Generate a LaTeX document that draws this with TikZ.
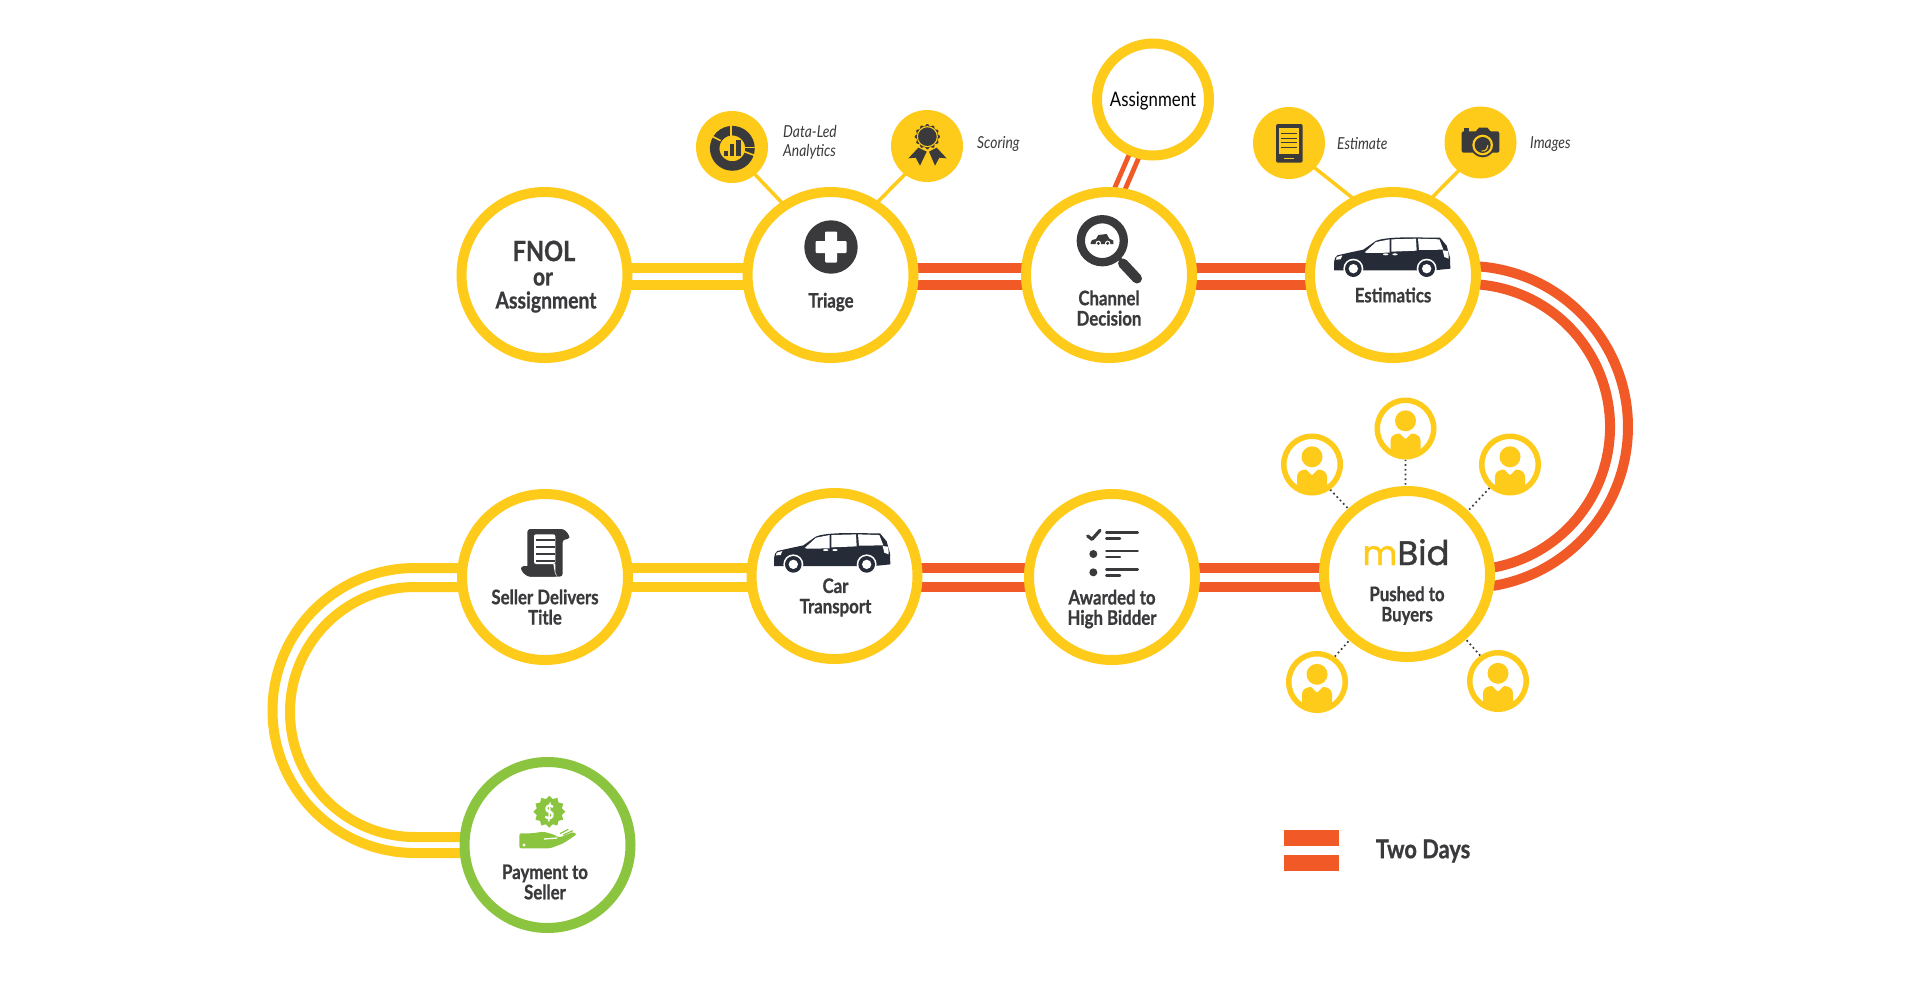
\documentclass[tikz,border=0pt]{standalone}
\usepackage{fontspec}
\usetikzlibrary{backgrounds}
\newfontfamily\lblfont[FakeStretch=0.84,BoldFeatures={FakeBold=0.8}]{Lato}
\newfontfamily\logofont[FakeBold=1.2]{Poppins}
\definecolor{cgold}{HTML}{FFCB1B}
\definecolor{corange}{HTML}{F15A27}
\definecolor{cgreen}{HTML}{8BC53F}
\definecolor{dk}{HTML}{3A3A3C}
\definecolor{navy}{HTML}{252C38}
\tikzset{
  zc/.style={x=0.33333pt,y=-0.33333pt},
  ring/.style={circle,draw=#1,line width=10pt,fill=white,inner sep=0pt,minimum size=166pt},
  ring/.default=cgold,
  smallring/.style={circle,draw=cgold,line width=10pt,fill=white,inner sep=0pt,minimum size=112pt},
  buyerring/.style={circle,draw=cgold,line width=5.5pt,fill=white,inner sep=0pt,minimum size=56.5pt},
  satdisc/.style={circle,fill=cgold,inner sep=0pt,minimum size=72pt},
  band/.style={draw=#1,line width=10pt,line cap=butt},
  thinband/.style={draw=corange,line width=4.8pt},
  stem/.style={draw=cgold,line width=3.5pt,shorten <=-1.5pt,shorten >=-1.5pt},
  dots/.style={draw=dk,line width=1.7pt,dash pattern=on 1.7pt off 3pt},
  lbl/.style={inner sep=0pt,align=center,text=dk,font=\lblfont\bfseries\fontsize{#1}{20.3}\selectfont},
  lbl/.default=20,
  note/.style={inner sep=0pt,align=left,anchor=west,text=dk,font=\lblfont\itshape\fontsize{16.5}{18.5}\selectfont},
  iconvan/.pic={
    \begin{scope}[zc]
      \fill[navy] (0,100) -- (0,78) .. controls (2,64) and (4,58) .. (10,55) -- (50,46) -- (88,38)
        -- (125,12) .. controls (140,5) and (170,2) .. (215,1) -- (318,2) -- (338,26)
        -- (348,62) -- (349,95) -- (300,100) -- cycle;
      \fill[white] (92,46) -- (126,15) -- (167,7) -- (167,47) -- (100,48) -- cycle;
      \fill[white] (172,7) -- (246,5) -- (248,41) -- (172,44) -- cycle;
      \fill[white] (252,5) -- (316,7) -- (328,38) -- (255,39) -- cycle;
      \fill[white] (8,60) -- (25,55) -- (20,67) -- (6,68) -- cycle;
      \fill[white] (326,40) -- (343,42) -- (344,65) -- (331,60) -- cycle;
      \fill[white] (155,52) ellipse [x radius=8,y radius=3];
      \fill[white] (183,52) ellipse [x radius=8,y radius=3];
      \foreach \wx in {58,278}{
        \fill[white] (\wx,95) circle [radius=30];
        \fill[navy] (\wx,95) circle [radius=25];
        \fill[white] (\wx,95) circle [radius=14];
      }
    \end{scope}
  },
  iconbuyer/.pic={
    \fill[cgold] (0,-7.7) circle [radius=10.5];
    \fill[cgold] (-15,22) -- (-15,12) .. controls (-15,7) and (-10,5) .. (-6,5) -- (0,10.7) -- (6,5)
      .. controls (10,5) and (15,7) .. (15,12) -- (15,22) -- (0,27) -- cycle;
  }
}
\begin{document}
\begin{tikzpicture}[x=1pt,y=-1pt]
\useasboundingbox (0,0) rectangle (1920,988);
% guide heights of the double bands
\coordinate (u1) at (0,267.5);
\coordinate (u2) at (0,285);
\coordinate (m1) at (0,568);
\coordinate (m2) at (0,587);
\coordinate (b1) at (0,853);
\coordinate (b2) at (0,837);
% main stations
\node[ring] (fnol) at (544.5,275) {};
\node[ring] (triage) at (830.5,275) {};
\node[ring] (channel) at (1109,275) {};
\node[ring] (estim) at (1393,275) {};
\node[ring] (mbid) at (1407,574) {};
\node[ring] (award) at (1112,577) {};
\node[ring] (cartr) at (834.5,576) {};
\node[ring] (seller) at (545,577) {};
\node[ring=cgreen] (pay) at (547.5,845) {};
\node[smallring] (assign) at (1153,99.5) {};
% satellites
\node[satdisc] (data) at (732,147) {};
\node[satdisc] (score) at (927,146) {};
\node[satdisc] (estimate) at (1289,143) {};
\node[satdisc] (images) at (1480.5,142.5) {};
\node[buyerring] (bt) at (1405.5,428.5) {};
\node[buyerring] (bl) at (1312,464.5) {};
\node[buyerring] (br) at (1510,464.5) {};
\node[buyerring] (bbl) at (1317,682) {};
\node[buyerring] (bbr) at (1498,681) {};
\begin{pgfonlayer}{background}
  \fill[white] (0,0) rectangle (1920,988);
  % top row
  \draw[band=cgold] (fnol.center |- u1) -- (triage.center |- u1);
  \draw[band=cgold] (fnol.center |- u2) -- (triage.center |- u2);
  \draw[band=corange] (triage.center |- u1) -- (channel.center |- u1);
  \draw[band=corange] (triage.center |- u2) -- (channel.center |- u2);
  \draw[band=corange] (channel.center |- u1) -- (estim.center |- u1);
  \draw[band=corange] (channel.center |- u2) -- (estim.center |- u2);
  % right bend
  \draw[band=corange] (estim.center |- u1) -- (1481,266.6) arc[start angle=-85,end angle=80,radius=161] -- (mbid.center |- m2);
  \draw[band=corange] (estim.center |- u2) -- (1481,284.7) arc[start angle=-84.4,end angle=78.2,radius=143] -- (mbid.center |- m1);
  % middle row
  \draw[band=corange] (mbid.center |- m1) -- (award.center |- m1);
  \draw[band=corange] (mbid.center |- m2) -- (award.center |- m2);
  \draw[band=corange] (award.center |- m1) -- (cartr.center |- m1);
  \draw[band=corange] (award.center |- m2) -- (cartr.center |- m2);
  \draw[band=cgold] (cartr.center |- m1) -- (seller.center |- m1);
  \draw[band=cgold] (cartr.center |- m2) -- (seller.center |- m2);
  % left bend
  \draw[band=cgold] (seller.center |- m1) -- (415,568) arc[start angle=-90,end angle=-270,radius=142.5] -- (pay.center |- b1);
  \draw[band=cgold] (seller.center |- m2) -- (415,587) arc[start angle=-90,end angle=-270,radius=125] -- (pay.center |- b2);
  % assignment branch
  \draw[thinband] ([xshift=-32pt]channel.center) -- (assign.center);
  \draw[thinband] ([xshift=-21pt]channel.center) -- ([xshift=11pt]assign.center);
  % satellite stems
  \draw[stem] (data.-50) -- (triage.124);
  \draw[stem] (score.232) -- (triage.57);
  \draw[stem] (estimate.-44) -- (estim.118);
  \draw[stem] (images.232) -- (estim.63);
  % buyers
  \draw[dots] (bt.-90) -- (mbid.91);
  \draw[dots] (bl.-54) -- (mbid.132);
  \draw[dots] (br.-131) -- (mbid.46);
  \draw[dots] (bbl.55) -- (mbid.229);
  \draw[dots] (bbr.125) -- (mbid.-48);
\end{pgfonlayer}
% labels
\node[lbl=28] (t1) at (544,251) {FNOL};
\node[lbl=25] (t1b) at (543,279) {or};
\node[lbl=23] (t1c) at (546,302) {Assignment};
\node[lbl] (t2) at (831,302) {Triage};
\node[lbl] (t3) at (1109,308) {Channel\\Decision};
\node[lbl] (t4) at (1393,295) {Estimatics};
\node[lbl] (t5) at (1407,605.5) {Pushed to\\Buyers};
\node[lbl] (t6) at (1112,609) {Awarded to\\High Bidder};
\node[lbl] (t7) at (835.5,597.5) {Car\\Transport};
\node[lbl] (t8) at (545,607) {Seller Delivers\\Title};
\node[lbl] (t9) at (545,882) {Payment to\\Seller};
\node[lbl,text=black,font=\lblfont\fontsize{20}{20}\selectfont] (t10) at (1153,101) {Assignment};
\node[lbl=26] (t11) at (1423,851) {Two Days};
\node[note] (n1) at (783,142) {Data-Led\\[0.5pt]Analytics};
\node[note] (n2) at (977,144) {Scoring};
\node[note] (n3) at (1337,144) {Estimate};
\node[note] (n4) at (1530,144) {Images};
% legend
\fill[corange] (1284,830) rectangle (1339,846);
\fill[corange] (1284,855) rectangle (1339,871);
% logo
\node[inner sep=0pt,anchor=base,font=\logofont\fontsize{34}{34}\selectfont] (logo) at (1406,565)
  {\textcolor{cgold}{m}\textcolor{dk}{Bid}};
% triage icon
\fill[dk] (831,247) circle [radius=26.7];
\fill[white,rounded corners=1pt] (825,231.5) rectangle (837,262.5);
\fill[white,rounded corners=1pt] (815.5,241) rectangle (846.5,253);
% magnifier
\draw[dk,line width=8.3pt] (1102.3,240.7) circle [radius=21.5];
\draw[dk,line width=4pt] (1118,257) -- (1124,264);
\draw[dk,line width=10pt,line cap=round] (1123,263.5) -- (1137,278.5);
\begin{scope}[shift={(1060,30)},zc]
  \fill[dk] (92,638) -- (96,630) -- (108,627) -- (115,615) -- (140,612) -- (148,626) -- (160,632) -- (160,642) -- (92,642) -- cycle;
  \foreach \wx in {115,143}{\fill[white] (\wx,640) circle [radius=8];\fill[dk] (\wx,640) circle [radius=5];}
\end{scope}
% vans
\pic at (1334,237) {iconvan};
\pic at (774,532.7) {iconvan};
% data icon
\begin{scope}[shift={(690,105)},zc]
  \draw[dk,line width=9.5pt] (127,130) circle [radius=53];
  \draw[cgold,line width=1.6pt] (123,58) -- (123,92);
  \draw[cgold,line width=1.6pt] (62,92) -- (92,107);
  \draw[cgold,line width=1.6pt] (163,140) -- (196,152);
  \draw[cgold,line width=1.6pt] (165,127) -- (196,127);
  \fill[dk] (102,138) rectangle (115,152);
  \fill[dk] (120,118) rectangle (133,152);
  \fill[dk] (138,105) rectangle (152,152);
\end{scope}
% scoring icon
\begin{scope}[shift={(885,105)},zc]
  \fill[dk] (100,128) -- (70,160) -- (92,158) -- (105,182) -- (125,140) -- cycle;
  \fill[dk] (132,140) -- (150,182) -- (163,158) -- (185,160) -- (155,128) -- cycle;
  \fill[dk] plot[domain=0:360,samples=145,smooth] ({127+(35+3*cos(12*\x))*cos(\x)},{95+(35+3*cos(12*\x))*sin(\x)}) -- cycle;
  \draw[cgold,line width=1.1pt] (127,95) circle [radius=30];
\end{scope}
% tablet icon
\begin{scope}[shift={(1180,90)},zc]
  \fill[dk,rounded corners=2pt] (288,102) rectangle (368,218);
  \fill[cgold] (298,115) rectangle (358,192);
  \foreach \ly in {130,145,158,172}{\draw[dk,line width=1.5pt] (303,\ly) -- (352,\ly);}
  \fill[cgold] (312,203) rectangle (343,208);
\end{scope}
% camera icon
\begin{scope}[shift={(1180,90)},zc]
  \fill[dk] (852,127) -- (852,115) -- (868,115) -- (868,127) -- cycle;
  \fill[dk] (885,127) -- (897,113) -- (922,113) -- (934,127) -- cycle;
  \fill[dk,rounded corners=2pt] (845,124) rectangle (958,188);
  \fill[dk] (908,165) circle [radius=37];
  \fill[cgold] (908,165) circle [radius=31];
  \fill[dk] (908,165) circle [radius=24];
  \draw[cgold,line width=1.1pt] (905,183) arc[start angle=100,end angle=-5,radius=16];
\end{scope}
% scroll icon
\begin{scope}[shift={(440,480)},zc]
  \fill[dk,rounded corners=3pt] (262,260) -- (262,147) -- (372,147) -- (388,165) -- (388,178) -- (368,178) -- (368,290) -- (262,290) -- cycle;
  \fill[dk,rounded corners=3pt] (243,258) -- (340,258) -- (345,280) -- (352,290) -- (262,290) -- (243,272) -- cycle;
  \fill[white,rounded corners=2pt] (282,163) -- (346,163) -- (346,252) -- (282,252) -- cycle;
  \fill[white] (340,252) -- (346,252) -- (346,278) -- (352,290) -- (345,280) -- cycle;
  \foreach \ly in {180,200,222,244}{\draw[dk,line width=1.8pt] (288,\ly) -- (345,\ly);}
\end{scope}
% checklist icon
\begin{scope}[shift={(740,480)},zc]
  \draw[dk,line width=3.2pt,line cap=round,line join=round] (1043,168) -- (1056,178) -- (1080,151);
  \fill[dk] (1060,222) circle [radius=12];
  \fill[dk] (1060,277) circle [radius=12];
  \foreach \ly in {158,213,268}{\draw[dk,line width=2.6pt,line cap=round] (1099,\ly) -- (1193,\ly);}
  \foreach \ly in {176,231,286}{\draw[dk,line width=2.6pt,line cap=round] (1099,\ly) -- (1140,\ly);}
\end{scope}
% buyers
\pic at (1405.5,428.5) {iconbuyer};
\pic at (1312,464.5) {iconbuyer};
\pic at (1510,464.5) {iconbuyer};
\pic at (1317,682) {iconbuyer};
\pic at (1498,681) {iconbuyer};
% payment icon
\begin{scope}[shift={(500,785)},zc]
  \fill[cgreen] plot[domain=0:23,samples=24] ({148+(48-9*mod(round(\x),2))*cos(15*\x)},{80+(48-9*mod(round(\x),2))*sin(15*\x)}) -- cycle;
  \fill[cgreen,rounded corners=2pt] (58,145) -- (95,145) -- (130,140) -- (160,148) -- (177,158) -- (222,140) -- (230,148) -- (190,175) -- (150,190) -- (58,190) -- cycle;
  \draw[white,line width=1.3pt] (132,162) -- (172,159);
  \fill[white] (72,180) circle [radius=5];
  \draw[cgreen,line width=1.2pt] (180,146) -- (205,133);
  \draw[cgreen,line width=1.2pt] (190,150) -- (218,137);
\end{scope}
\node[inner sep=0pt,text=white,font=\lblfont\bfseries\fontsize{20}{20}\selectfont] (dollar) at (549.3,812) {\$};
\end{tikzpicture}
\end{document}
